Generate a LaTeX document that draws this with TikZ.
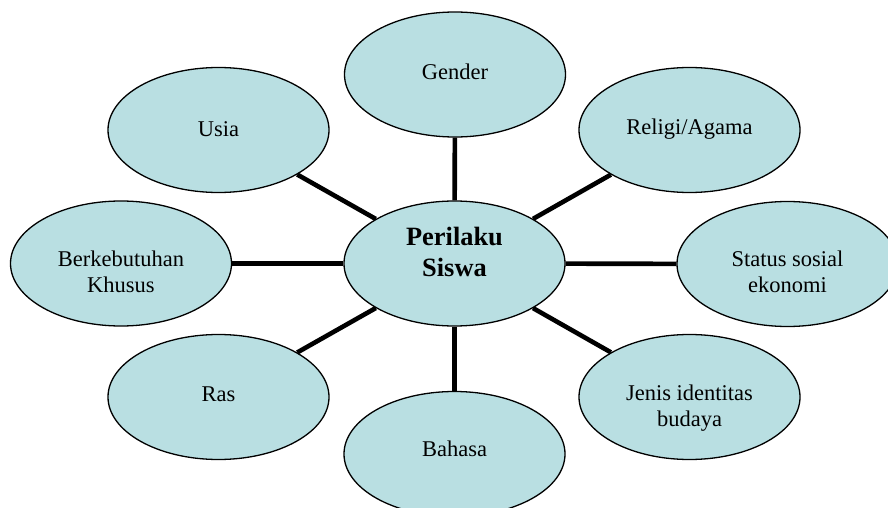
\documentclass[tikz,border=0pt]{standalone}
\usepackage{fontspec}
\setmainfont{Liberation Serif}
\usetikzlibrary{shapes.geometric}
\definecolor{bubblefill}{HTML}{B9DFE2}
\tikzset{
  bubble/.style={ellipse, draw=black, line width=1.3pt, fill=bubblefill,
    minimum width=221pt, minimum height=125pt, inner sep=0pt},
  txt/.style={align=center, inner sep=0pt, font=\fontsize{22.5}{26}\selectfont},
  boldtxt/.style={align=center, inner sep=0pt, font=\fontsize{26.4}{31}\selectfont\bfseries},
  conn/.style={line width=4.6pt, draw=black}
}
\begin{document}
\begin{tikzpicture}[x=1pt,y=-1pt]
\useasboundingbox (0,0) rectangle (888,508);
\node[bubble, label={[txt,yshift=3pt]center:Gender}] (gender) at (455,74.5) {};
\node[bubble, label={[txt,yshift=1pt]center:Usia}] (usia) at (218.5,130) {};
\node[bubble, label={[txt,yshift=1pt]center:Religi/Agama}] (religi) at (689.5,130) {};
\node[bubble, label={[txt,yshift=-8pt]center:{Berkebutuhan\\Khusus}}] (berk) at (121,263.5) {};
\node[bubble, label={[boldtxt,yshift=12pt]center:{Perilaku\\Siswa}}] (pusat) at (454.5,263.5) {};
\node[bubble, label={[txt,yshift=-8pt]center:{Status sosial\\ekonomi}}] (status) at (787.5,264) {};
\node[bubble, label={[txt,yshift=3pt]center:Ras}] (ras) at (218.5,397) {};
\node[bubble, label={[txt,yshift=-11pt]center:{Jenis identitas\\budaya}}] (jenis) at (689.5,397) {};
\node[bubble, label={[txt,yshift=5pt]center:Bahasa}] (bahasa) at (454.5,454) {};
\draw[conn] (pusat) -- (gender);
\draw[conn] (pusat) -- (usia);
\draw[conn] (pusat) -- (religi);
\draw[conn] (pusat) -- (berk);
\draw[conn] (pusat) -- (status);
\draw[conn] (pusat) -- (ras);
\draw[conn] (pusat) -- (jenis);
\draw[conn] (pusat) -- (bahasa);
\end{tikzpicture}
\end{document}
